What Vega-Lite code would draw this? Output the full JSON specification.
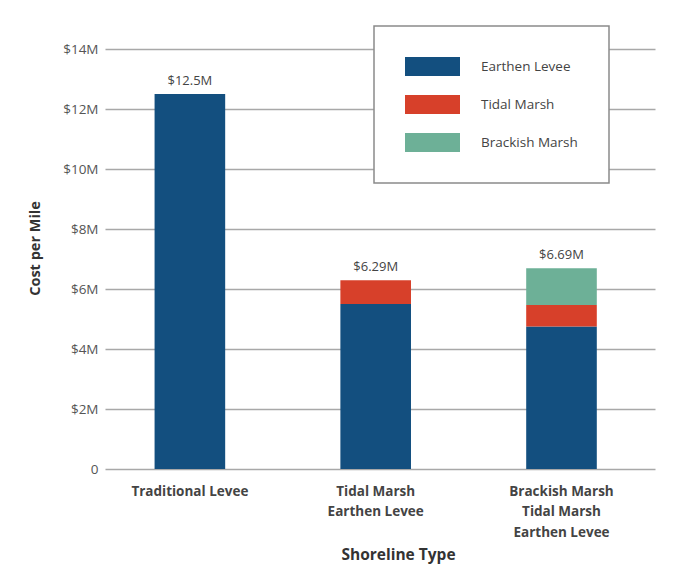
{
  "$schema": "https://vega.github.io/schema/vega-lite/v6.json",
  "width": 550,
  "height": 420,
  "autosize": {"type": "none"},
  "padding": {"left": 105, "top": 49, "right": 18, "bottom": 95},
  "config": {
    "font": "Open Sans",
    "view": {"stroke": null},
    "locale": {"number": {"decimal": ".", "thousands": ",", "grouping": [3], "currency": ["$", "M"]}}
  },
  "data": {
    "values": [
      {"shoreline": "Traditional Levee", "component": "Earthen Levee", "seq": 1, "cost": 12.5},
      {"shoreline": "Tidal Marsh|Earthen Levee", "component": "Earthen Levee", "seq": 1, "cost": 5.5},
      {"shoreline": "Tidal Marsh|Earthen Levee", "component": "Tidal Marsh", "seq": 2, "cost": 0.79},
      {"shoreline": "Brackish Marsh|Tidal Marsh|Earthen Levee", "component": "Earthen Levee", "seq": 1, "cost": 4.75},
      {"shoreline": "Brackish Marsh|Tidal Marsh|Earthen Levee", "component": "Tidal Marsh", "seq": 2, "cost": 0.72},
      {"shoreline": "Brackish Marsh|Tidal Marsh|Earthen Levee", "component": "Brackish Marsh", "seq": 3, "cost": 1.22}
    ]
  },
  "encoding": {
    "x": {
      "field": "shoreline",
      "type": "nominal",
      "sort": ["Traditional Levee", "Tidal Marsh|Earthen Levee", "Brackish Marsh|Tidal Marsh|Earthen Levee"],
      "scale": {"paddingInner": 0.62, "paddingOuter": 0.29, "align": 0.46},
      "axis": {
        "title": "Shoreline Type",
        "titleFontSize": 15.5,
        "titleFontWeight": "bold",
        "titleColor": "#333333",
        "titlePadding": 9,
        "titleX": 293,
        "labelAngle": 0,
        "labelExpr": "split(datum.label, '|')",
        "labelFontSize": 13.5,
        "labelFontWeight": "bold",
        "labelColor": "#444444",
        "labelLineHeight": 20.5,
        "labelPadding": 15,
        "domain": false,
        "ticks": false
      }
    }
  },
  "layer": [
    {
      "mark": {"type": "bar"},
      "encoding": {
        "y": {
          "field": "cost",
          "type": "quantitative",
          "stack": "zero",
          "title": "Cost per Mile",
          "scale": {"domain": [0, 14]},
          "axis": {
            "values": [0, 2, 4, 6, 8, 10, 12, 14],
            "labelExpr": "datum.value == 0 ? '0' : '$' + datum.value + 'M'",
            "labelFontSize": 13.5,
            "labelColor": "#555555",
            "labelPadding": 7,
            "domain": false,
            "ticks": false,
            "gridColor": "#a8a8a8",
            "gridWidth": 1.5,
            "titleFontSize": 14.5,
            "titleFontWeight": "bold",
            "titleColor": "#333333",
            "titlePadding": 20,
            "titleY": 199
          }
        },
        "color": {
          "field": "component",
          "type": "nominal",
          "scale": {
            "domain": ["Earthen Levee", "Tidal Marsh", "Brackish Marsh"],
            "range": ["#134f7f", "#d7402a", "#6db097"]
          },
          "legend": {
            "orient": "none",
            "legendX": 269,
            "legendY": -23,
            "title": null,
            "symbolType": "M-1,-0.345L1,-0.345L1,0.345L-1,0.345Z",
            "symbolSize": 3025,
            "symbolStrokeWidth": 0,
            "symbolOpacity": 1,
            "clipHeight": 19,
            "labelExpr": "datum.label + '\u00a0\u00a0\u00a0\u00a0\u00a0\u00a0\u00a0\u00a0\u00a0\u00a0\u00a0\u00a0\u00a0'",
            "labelFontSize": 13.5,
            "labelColor": "#444444",
            "labelOffset": 21,
            "labelLimit": 400,
            "rowPadding": 19,
            "padding": 31,
            "strokeColor": "#8a8a8a",
            "fillColor": "#ffffff",
            "encode": {"legend": {"update": {"strokeWidth": {"value": 1.5}}}}
          }
        },
        "order": {"field": "seq", "type": "quantitative"}
      }
    },
    {
      "transform": [
        {"aggregate": [{"op": "sum", "field": "cost", "as": "total"}], "groupby": ["shoreline"]}
      ],
      "mark": {"type": "text", "baseline": "alphabetic", "dy": -9, "fontSize": 13, "color": "#444444"},
      "encoding": {
        "y": {"field": "total", "type": "quantitative", "title": "Cost per Mile"},
        "text": {"field": "total", "type": "quantitative", "format": "$.3~r"}
      }
    }
  ]
}
